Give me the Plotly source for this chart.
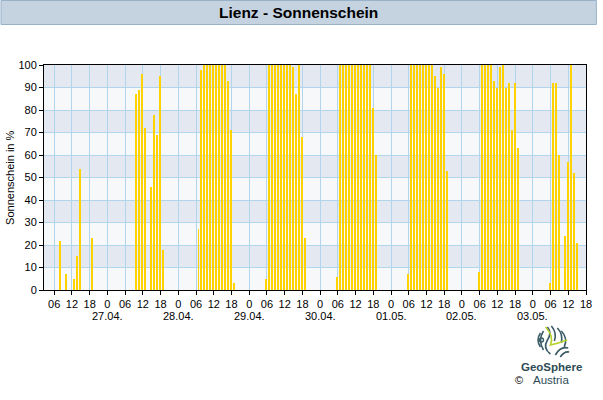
import plotly.graph_objects as go

# ---------------- data ----------------
day_labels = ["26.04.", "27.04.", "28.04.", "29.04.", "30.04.", "01.05.", "02.05.", "03.05."]
hours = [6, 7, 8, 9, 10, 11, 12, 13, 14, 15, 16, 17, 18, 19]
sun_26_04 = [0, 0, 22, 0, 7, 0, 0, 5, 15, 54, 0, 0, 0, 23]
sun_27_04 = [0, 0, 0, 0, 87, 89, 96, 72, 0, 46, 78, 69, 95, 18]
sun_28_04 = [0, 27, 98, 100, 100, 100, 100, 100, 100, 100, 100, 93, 71, 3]
sun_29_04 = [5, 100, 100, 100, 100, 100, 100, 100, 100, 99, 87, 100, 68, 23]
sun_30_04 = [6, 100, 100, 100, 100, 100, 100, 100, 100, 100, 100, 100, 81, 60]
sun_01_05 = [7, 100, 100, 100, 100, 100, 100, 100, 100, 95, 90, 99, 96, 53]
sun_02_05 = [8, 100, 100, 100, 100, 93, 90, 99, 100, 90, 92, 71, 92, 63]
sun_03_05 = [3, 92, 92, 60, 0, 24, 57, 100, 52, 21, None, None, None, None]
days = [sun_26_04, sun_27_04, sun_28_04, sun_29_04, sun_30_04, sun_01_05, sun_02_05, sun_03_05]

tick_hours = list(range(6, 187, 6))
tick_text = ["0" if h % 24 == 0 else f"{h % 24:02d}" for h in tick_hours]
y_ticks = list(range(0, 101, 10))

# ---------------- geometry helpers ----------------
W, H = 603, 400
L, R, T, B = 44, 11, 65, 110
PW, PH = W - L - R, H - T - B


def px(x):
    return (x - L) / PW


def py(y):
    return (H - B - y) / PH


xs, ys = [], []
for d, vals in enumerate(days):
    for h, v in zip(hours, vals):
        xs.append(d * 24 + h)
        ys.append(v)

fig = go.Figure()
fig.add_trace(go.Bar(x=xs, y=ys, width=0.67, offset=-0.5,
                     marker=dict(color="rgba(255,210,0,0.999)", line=dict(width=0)),
                     hoverinfo="x+y"))

shapes = []
# alternating horizontal bands
for i in range(0, len(y_ticks) - 1):
    if i % 2 == 1:
        shapes.append(dict(type="rect", xref="paper", yref="y", x0=0, x1=1,
                           y0=y_ticks[i], y1=y_ticks[i + 1],
                           fillcolor="#e4e9f1", line=dict(width=0), layer="below"))
# title bar
shapes.append(dict(type="rect", xref="paper", yref="paper",
                   x0=px(0.5), x1=px(602.5), y0=py(24.5), y1=py(0.5),
                   fillcolor="#c5d3e1", line=dict(color="#98b2ca", width=1), layer="above"))

# GeoSphere logo (approximation)
teal = "#3b5b66"
lime = "#b7d12f"


def path(points):
    s = "M {} {}".format(px(points[0][0]), py(points[0][1]))
    for i in range(1, len(points) - 1, 2):
        s += " Q {} {} {} {}".format(px(points[i][0]), py(points[i][1]),
                                     px(points[i + 1][0]), py(points[i + 1][1]))
    return s


logo_paths = [
    ([(546, 333), (541, 340), (546, 347)], teal),
    ([(549, 331), (543, 340), (549, 350)], teal),
    ([(553, 327), (558, 333), (553, 340), (548, 348), (556, 354)], teal),
    ([(557, 326), (563, 333), (560, 341)], teal),
    ([(563, 328), (569, 334), (567, 343)], teal),
    ([(567, 331), (574, 338), (570, 347)], teal),
    ([(561, 355), (566, 346), (574, 348)], teal),
    ([(566, 357), (570, 351), (575, 352)], teal),
    ([(551, 327), (560, 336), (556, 345), (565, 343), (573, 340)], lime),
]
for pts, col in logo_paths:
    shapes.append(dict(type="path", xref="paper", yref="paper", path=path(pts),
                       line=dict(color=col, width=1.6), layer="above"))
shapes.append(dict(type="circle", xref="paper", yref="paper",
                   x0=px(545), x1=px(549), y0=py(342), y1=py(338),
                   line=dict(color=teal, width=1.4), layer="above"))

annotations = [
    dict(text="<b>Lienz - Sonnenschein</b>", xref="paper", yref="paper",
         x=px(301), y=py(12.5), xanchor="center", yanchor="middle", showarrow=False,
         font=dict(family="Liberation Sans, Arial", size=15.5, color="#000")),
    dict(text="Sonnenschein in %", xref="paper", yref="paper", x=px(9), y=0.5,
         textangle=-90, xanchor="center", yanchor="middle", showarrow=False,
         font=dict(family="Liberation Sans, Arial", size=11, color="#000")),
    dict(text="<b>GeoSphere</b>", xref="paper", yref="paper", x=px(557), y=py(367),
         xanchor="center", yanchor="middle", showarrow=False,
         font=dict(family="Liberation Sans, Arial", size=11.5, color="#2d4b56")),
    dict(text="Austria", xref="paper", yref="paper", x=px(557), y=py(380),
         xanchor="center", yanchor="middle", showarrow=False,
         font=dict(family="Liberation Sans, Arial", size=11.5, color="#2d4b56")),
    dict(text="©", xref="paper", yref="paper", x=px(524), y=py(380),
         xanchor="center", yanchor="middle", showarrow=False,
         font=dict(family="Liberation Sans, Arial", size=11, color="#000")),
]
for d, lab in enumerate(day_labels):
    if d == 0:
        continue
    annotations.append(dict(text=lab, xref="x", yref="paper", x=d * 24, y=py(316),
                            xanchor="center", yanchor="middle", showarrow=False,
                            font=dict(family="Liberation Sans, Arial", size=11, color="#000")))

fig.update_layout(
    width=W, height=H, margin=dict(l=L, r=R, t=T, b=B, pad=0),
    paper_bgcolor="#ffffff", plot_bgcolor="#f6f8fa",
    showlegend=False, shapes=shapes, annotations=annotations,
    font=dict(family="Liberation Sans, Arial", size=11, color="#000"),
    bargap=0, bargroupgap=0,
)
fig.update_xaxes(range=[2.54, 186], tickmode="array", tickvals=tick_hours, ticktext=tick_text,
                 showgrid=True, gridcolor="#b2d5ee", gridwidth=1, zeroline=False,
                 showline=True, linecolor="#000", linewidth=1, mirror=True,
                 ticks="outside", ticklen=4, tickcolor="#000",
                 tickfont=dict(family="Liberation Sans, Arial", size=11, color="#000"))
fig.update_yaxes(range=[0, 100], tickmode="array", tickvals=y_ticks,
                 showgrid=True, gridcolor="#b2d5ee", gridwidth=1, zeroline=False,
                 showline=True, linecolor="#000", linewidth=1, mirror=True,
                 ticks="outside", ticklen=4, tickcolor="#000",
                 tickfont=dict(family="Liberation Sans, Arial", size=11, color="#000"))

fig.write_html("out.html")
